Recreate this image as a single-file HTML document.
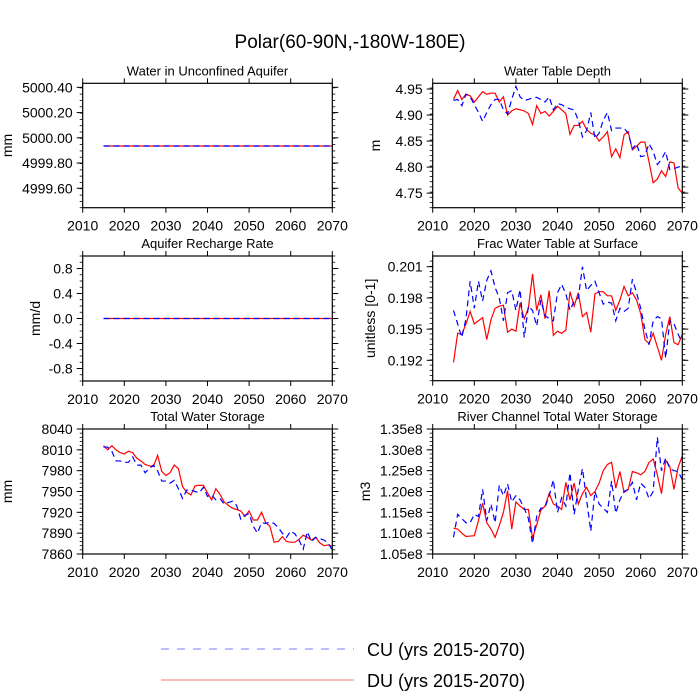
<!DOCTYPE html>
<html><head><meta charset="utf-8"><style>
body{margin:0;background:#fff;}
svg{display:block;font-family:"Liberation Sans",sans-serif;}
</style></head><body>
<svg id="c" width="700" height="700" viewBox="0 0 700 700" xmlns="http://www.w3.org/2000/svg">
<text x="350" y="48" font-size="19" text-anchor="middle">Polar(60-90N,-180W-180E)</text>
<g>
<line x1="161" y1="649" x2="354" y2="649" stroke="#7777ff" stroke-width="1" stroke-dasharray="8,8"/>
<text x="367" y="656" font-size="18">CU (yrs 2015-2070)</text>
<line x1="161" y1="680" x2="354" y2="680" stroke="#ff7777" stroke-width="1"/>
<text x="367" y="687" font-size="18">DU (yrs 2015-2070)</text>
</g>
</svg>
<script>
const years=[];for(let y=2015;y<=2070;y++)years.push(y);
const xTicks=[2010,2020,2030,2040,2050,2060,2070];
const wtdRed=[4.93,4.947,4.93,4.94,4.937,4.925,4.935,4.945,4.94,4.942,4.942,4.925,4.935,4.90,4.908,4.912,4.91,4.908,4.903,4.882,4.918,4.903,4.907,4.898,4.907,4.917,4.91,4.903,4.863,4.88,4.88,4.888,4.872,4.865,4.862,4.85,4.858,4.868,4.82,4.835,4.818,4.862,4.868,4.833,4.84,4.848,4.848,4.81,4.77,4.777,4.793,4.782,4.81,4.808,4.76,4.75];
const wtdBlue=[4.928,4.93,4.918,4.94,4.935,4.92,4.905,4.888,4.905,4.92,4.93,4.93,4.91,4.902,4.93,4.955,4.935,4.928,4.93,4.933,4.934,4.93,4.925,4.935,4.91,4.922,4.92,4.915,4.912,4.91,4.89,4.858,4.87,4.905,4.855,4.865,4.89,4.905,4.87,4.875,4.875,4.875,4.865,4.835,4.845,4.82,4.822,4.845,4.83,4.805,4.815,4.83,4.795,4.797,4.8,4.802];
const fracRed=[.1918,.1946,.1945,.1955,.1967,.1955,.1958,.1961,.1940,.1959,.1970,.1972,.1973,.1947,.1950,.1948,.1975,.1960,.1970,.2003,.1968,.1983,.1960,.1987,.1944,.1948,.1946,.1949,.1986,.1972,.1985,.1962,.1966,.1947,.1984,.1986,.1986,.1982,.1982,.1968,.1978,.1991,.1982,.1985,.1978,.1965,.1940,.1936,.1946,.1933,.1920,.1945,.1962,.1937,.1935,.1945];
const fracBlue=[.1968,.1955,.1942,.1960,.1996,.1970,.1996,.1977,.1997,.2006,.1990,.1980,.1958,.1985,.1987,.1968,.1988,.1942,.1972,.1968,.1953,.1978,.1963,.1960,.1958,.1985,.1993,.1984,.1968,.1977,.1980,.2010,.1987,.1992,.1996,.1985,.1974,.1976,.1975,.1958,.1970,.1967,.1970,.1998,.1985,.1970,.1950,.1935,.1958,.1962,.1960,.1922,.1958,.1955,.1945,.1937];
const riverRed=[1.112,1.110,1.100,1.092,1.093,1.094,1.130,1.172,1.125,1.110,1.090,1.118,1.150,1.202,1.110,1.175,1.165,1.157,1.157,1.088,1.120,1.155,1.165,1.195,1.170,1.165,1.157,1.222,1.180,1.220,1.170,1.195,1.210,1.190,1.200,1.220,1.250,1.265,1.270,1.208,1.248,1.198,1.205,1.248,1.245,1.240,1.248,1.270,1.278,1.240,1.195,1.275,1.260,1.205,1.258,1.285];
const riverBlue=[1.090,1.145,1.135,1.125,1.125,1.145,1.140,1.205,1.130,1.170,1.125,1.215,1.190,1.218,1.175,1.190,1.180,1.160,1.135,1.075,1.140,1.160,1.162,1.190,1.228,1.150,1.185,1.165,1.245,1.145,1.205,1.255,1.180,1.105,1.200,1.170,1.160,1.150,1.225,1.148,1.180,1.200,1.205,1.222,1.180,1.220,1.210,1.183,1.200,1.330,1.250,1.280,1.255,1.250,1.248,1.228];
const twsRed=[8016,8010,8016,8010,8006,8004,8008,8006,7998,7994,7989,7987,7986,8002,7979,7973,7977,7988,7983,7957,7949,7945,7958,7959,7959,7948,7938,7954,7946,7935,7930,7926,7924,7922,7914,7922,7909,7909,7920,7905,7900,7877,7878,7885,7878,7877,7877,7881,7887,7884,7880,7884,7876,7872,7873,7871];
const twsBlue=[8014,8014,8008,7994,7994,7992,7992,8000,7988,7988,7977,7983,7988,7980,7965,7965,7962,7966,7954,7940,7952,7952,7950,7948,7956,7943,7945,7938,7940,7932,7934,7936,7930,7910,7916,7918,7900,7890,7905,7904,7906,7904,7898,7890,7884,7893,7889,7880,7867,7892,7878,7884,7882,7880,7876,7865];
const aqRed=years.map(()=>4999.935), aqBlue=years.map(()=>4999.935);
const rchRed=years.map(()=>0), rchBlue=years.map(()=>0);
const aqTicks=[4999.6,4999.8,5000.0,5000.2,5000.4], aqLabels=["4999.60","4999.80","5000.00","5000.20","5000.40"];
const rchTicks=[-0.8,-0.4,0,0.4,0.8], rchLabels=["-0.8","-0.4","0.0","0.4","0.8"];
const wtdTicks=[4.75,4.8,4.85,4.9,4.95], wtdLabels=["4.75","4.80","4.85","4.90","4.95"];
const fracTicks=[0.192,0.195,0.198,0.201], fracLabels=["0.192","0.195","0.198","0.201"];
const twsTicks=[7860,7890,7920,7950,7980,8010,8040], twsLabels=["7860","7890","7920","7950","7980","8010","8040"];
const rivTicks=[1.05,1.10,1.15,1.20,1.25,1.30,1.35], rivLabels=["1.05e8","1.10e8","1.15e8","1.20e8","1.25e8","1.30e8","1.35e8"];

const NS="http://www.w3.org/2000/svg";
const svg=document.getElementById('c');
function mk(tag,attrs,parent){const e=document.createElementNS(NS,tag);for(const k in attrs)e.setAttribute(k,attrs[k]);(parent||svg).appendChild(e);return e;}
function panel(o){
  const g=mk('g',{});
  
  
  const x0=o.x,x1=o.x+249.6,y0=o.y,y1=o.y+o.h;
  const sx=v=>x0+(v-2010)/60*(x1-x0);
  const sy=v=>y1-(v-o.min)/(o.max-o.min)*(y1-y0);
  const t=mk('text',{x:(x0+x1)/2,y:y0-8,'font-size':13,'text-anchor':'middle'},g);t.textContent=o.title;
  
  
  for(let v=o.min;v<=o.max+1e-9;v+=o.minor){const k=Math.round((v-o.min)/o.minor);const vv=o.min+k*o.minor;const yy=sy(vv);if(yy<y0-0.5||yy>y1+0.5)continue;
    mk('line',{x1:x0-3,x2:x0,y1:yy,y2:yy,stroke:'#000','stroke-width':0.8},g);mk('line',{x1:x1,x2:x1+3,y1:yy,y2:yy,stroke:'#000','stroke-width':0.8},g);}
  o.ticks.forEach((v,i)=>{const yy=sy(v);
    mk('line',{x1:x0-6,x2:x0,y1:yy,y2:yy,stroke:'#000','stroke-width':1},g);mk('line',{x1:x1,x2:x1+6,y1:yy,y2:yy,stroke:'#000','stroke-width':1},g);
    const l=mk('text',{x:x0-10,y:yy+5,'font-size':14,'text-anchor':'end'},g);l.textContent=o.labels[i];
    
    
  });
  xTicks.forEach(v=>{const xx=sx(v);
    mk('line',{x1:xx,x2:xx,y1:y1,y2:y1+5,stroke:'#000','stroke-width':1},g);mk('line',{x1:xx,x2:xx,y1:y0-5,y2:y0,stroke:'#000','stroke-width':1},g);
    const l=mk('text',{x:xx,y:y1+23,'font-size':14,'text-anchor':'middle'},g);l.textContent=v;
    
    
  });
  const yl=mk('text',{x:0,y:0,'font-size':14,'text-anchor':'middle',transform:`translate(${o.ylx},${(y0+y1)/2}) rotate(-90)`},g);yl.textContent=o.ylab;
  
  
  const pts=a=>a.map((v,i)=>sx(years[i]).toFixed(2)+','+sy(v).toFixed(2)).join(' ');
  const r=mk('polyline',{points:pts(o.red),fill:'none',stroke:'#ff0000','stroke-width':1.2},g);
  
  
  const b=mk('polyline',{points:pts(o.blue),fill:'none',stroke:'#0000ff','stroke-width':1.2,'stroke-dasharray':'6,4'},g);
  
  
  const f=mk('rect',{x:x0,y:y0,width:x1-x0,height:y1-y0,fill:'none',stroke:'#000','stroke-width':1.2},g);
  
  
}
panel({name:'panel-water-unconfined-aquifer',title:'Water in Unconfined Aquifer',x:82.7,y:83.3,h:124.4,min:4999.446,max:5000.432,minor:0.05,ticks:aqTicks,labels:aqLabels,ylab:'mm',ylx:12,red:aqRed,blue:aqBlue});
panel({name:'panel-water-table-depth',title:'Water Table Depth',x:432.7,y:83.3,h:124.4,min:4.722,max:4.961,minor:0.01,ticks:wtdTicks,labels:wtdLabels,ylab:'m',ylx:380,red:wtdRed,blue:wtdBlue});
panel({name:'panel-aquifer-recharge',title:'Aquifer Recharge Rate',x:82.7,y:256,h:125,min:-1.0,max:1.0,minor:0.1,ticks:rchTicks,labels:rchLabels,ylab:'mm/d',ylx:40,red:rchRed,blue:rchBlue});
panel({name:'panel-frac-water-table',title:'Frac Water Table at Surface',x:432.7,y:256,h:124.7,min:0.19004,max:0.20203,minor:0.0005,ticks:fracTicks,labels:fracLabels,ylab:'unitless [0-1]',ylx:375,red:fracRed,blue:fracBlue});
panel({name:'panel-total-water-storage',title:'Total Water Storage',x:82.7,y:429,h:125,min:7860,max:8040,minor:6,ticks:twsTicks,labels:twsLabels,ylab:'mm',ylx:12,red:twsRed,blue:twsBlue});
panel({name:'panel-river-channel-storage',title:'River Channel Total Water Storage',x:432.7,y:429,h:125,min:1.05,max:1.35,minor:0.01,ticks:rivTicks,labels:rivLabels,ylab:'m3',ylx:370,red:riverRed,blue:riverBlue});
</script>
</body></html>
